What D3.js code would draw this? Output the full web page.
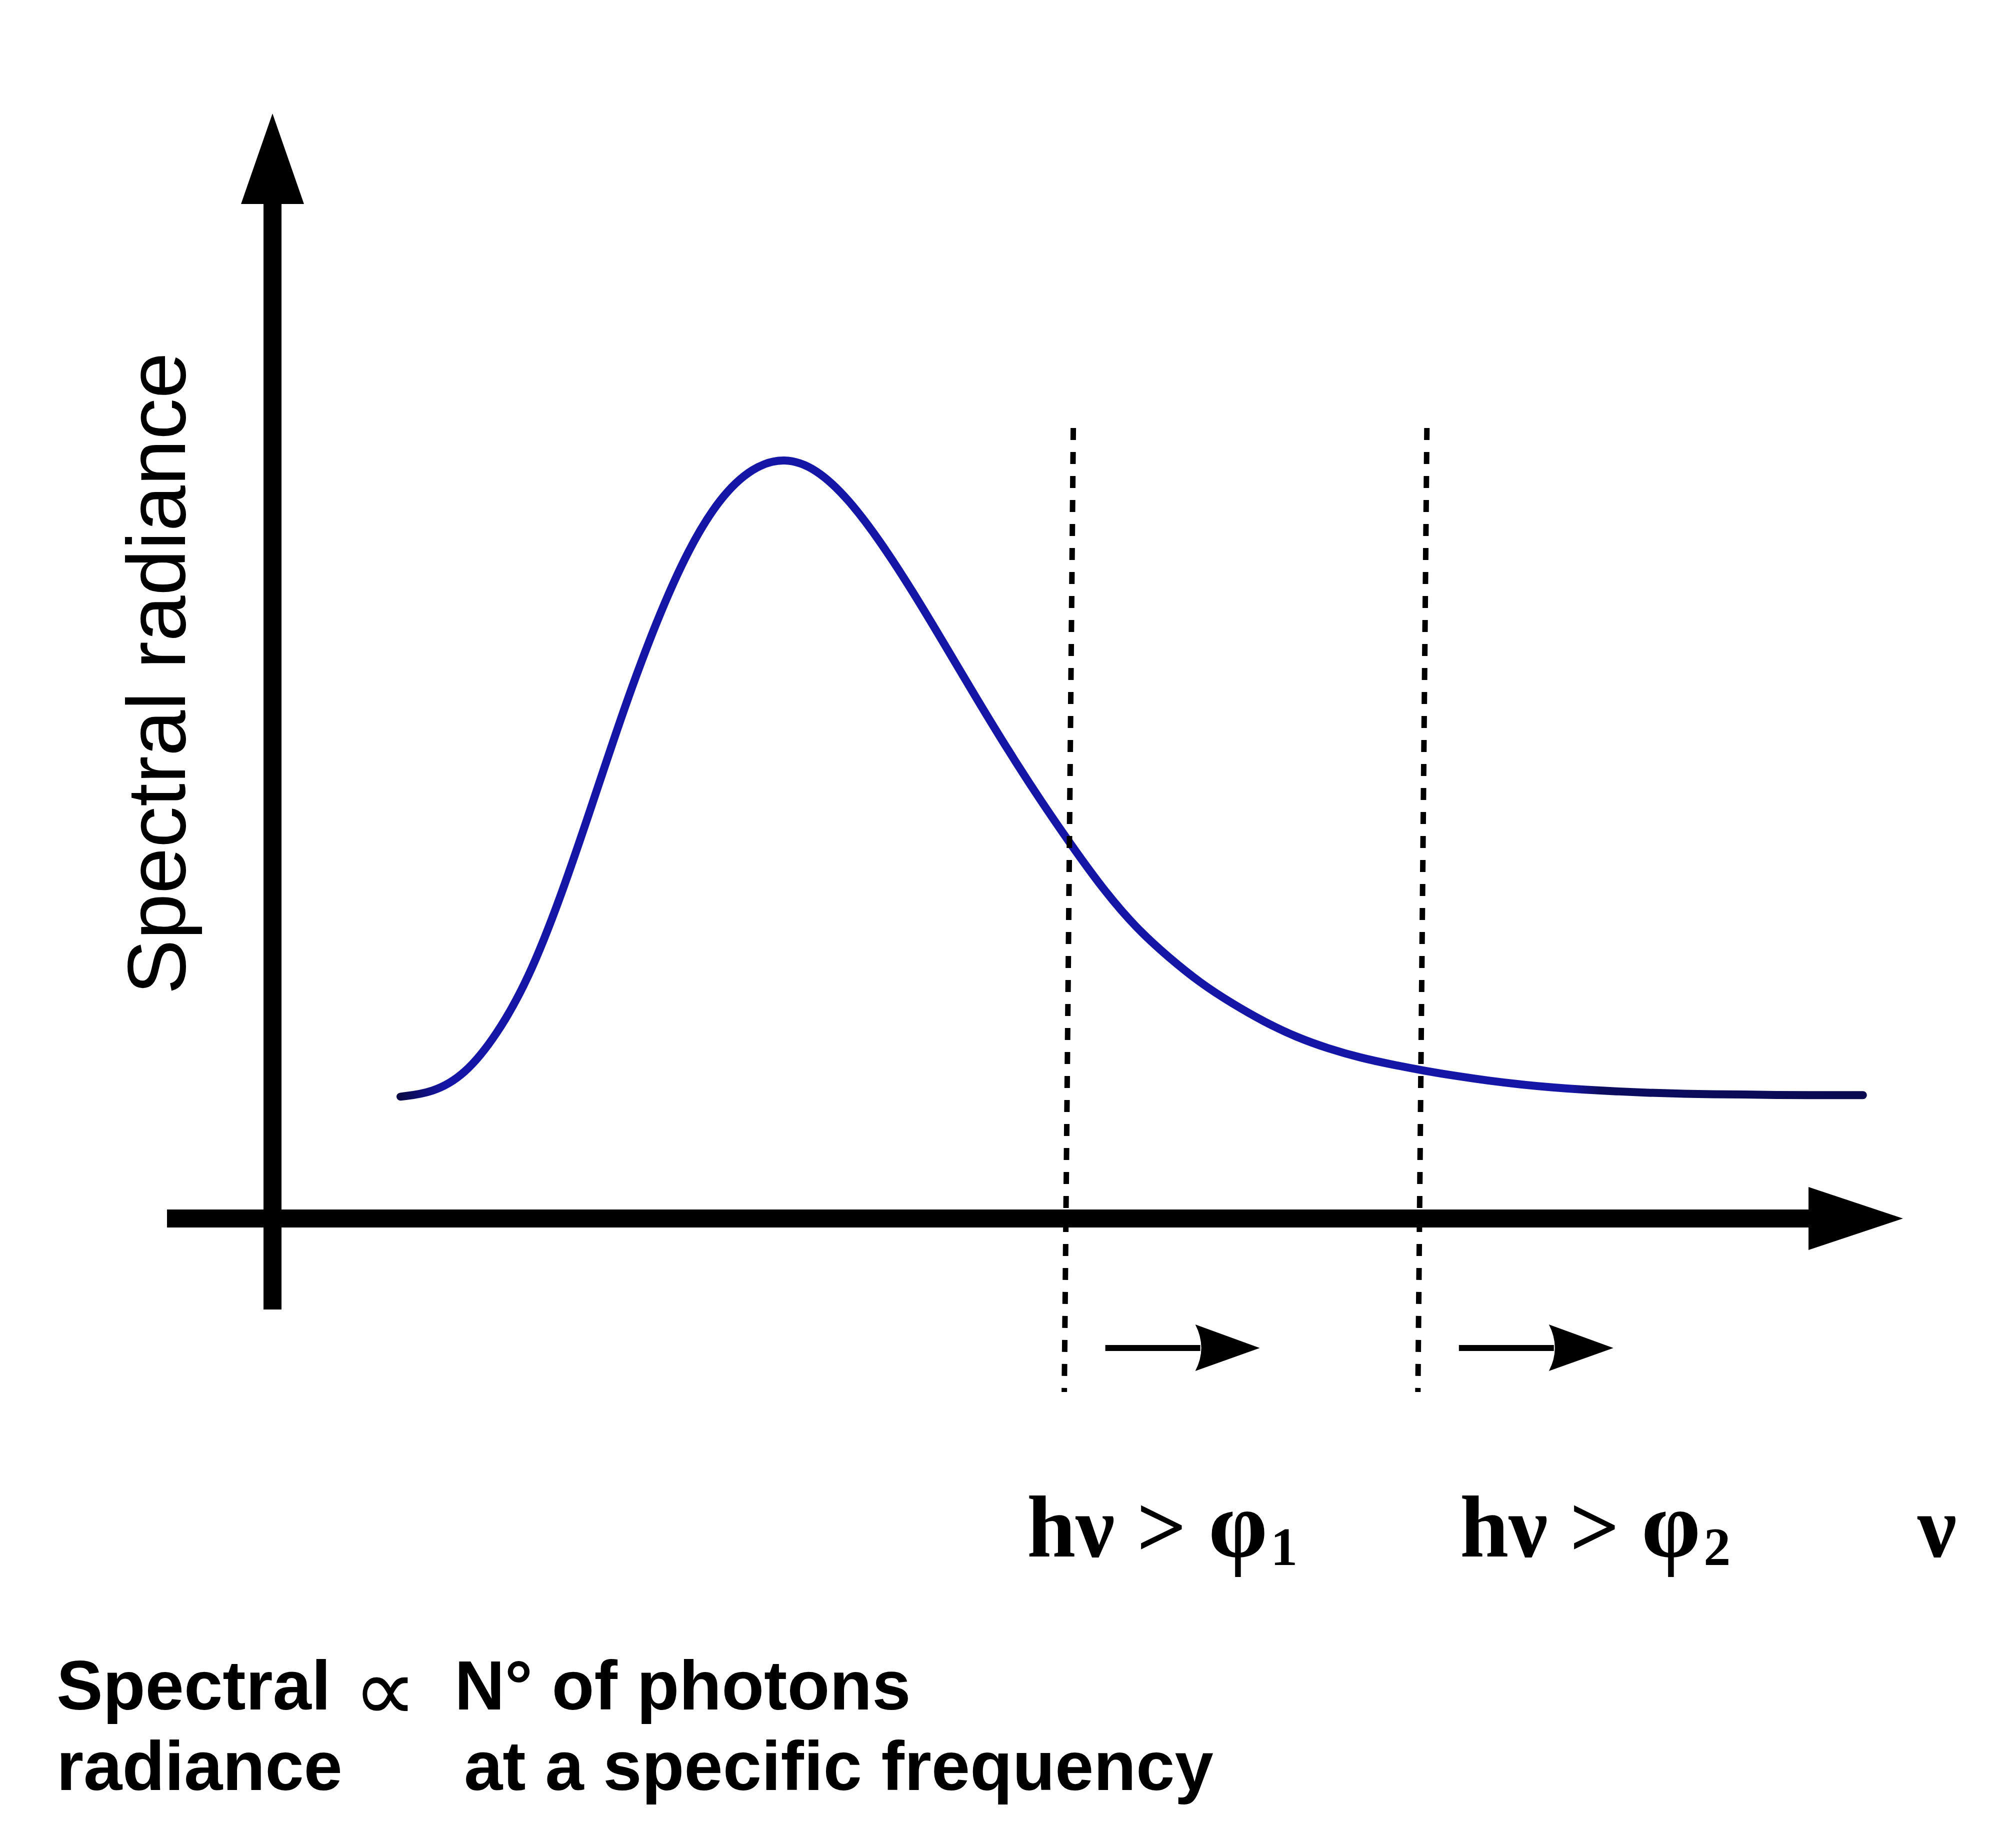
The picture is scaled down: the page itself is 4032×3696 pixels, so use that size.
<!DOCTYPE html>
<html>
<head>
<meta charset="utf-8">
<script src="https://cdn.jsdelivr.net/npm/d3@7"></script>
<style>
  html, body { margin: 0; padding: 0; background: #fff; }
  svg { display: block; }
</style>
</head>
<body>
<svg id="chart" width="4032" height="3696"></svg>
<script>
// curve at even steps (arbitrary units: frequency, normalised radiance)
const frequency = [0.8, 1.0, 1.2, 1.4, 1.6, 1.8, 2.0, 2.2, 2.4, 2.6, 2.8, 3.0, 3.2, 3.4, 3.6,
  3.8, 4.0, 4.2, 4.4, 4.6, 4.8, 5.0, 5.2, 5.4, 5.6, 5.8, 6.0, 6.2, 6.4, 6.6, 6.8, 7.0, 7.2,
  7.4, 7.6, 7.8, 8.0, 8.2, 8.4, 8.6, 8.8, 9.0, 9.2, 9.4, 9.6, 9.8, 9.94];
const radiance = [0.16, 0.165, 0.188, 0.24, 0.314, 0.421, 0.545, 0.672, 0.785, 0.88, 0.948, 0.987,
  1.0, 0.985, 0.945, 0.889, 0.824, 0.754, 0.683, 0.614, 0.549, 0.488, 0.43, 0.381, 0.343, 0.309,
  0.282, 0.258, 0.238, 0.223, 0.211, 0.202, 0.194, 0.187, 0.181, 0.176, 0.172, 0.169, 0.167, 0.165,
  0.164, 0.163, 0.163, 0.162, 0.162, 0.162, 0.162];

// work-function thresholds (same frequency units)
const thresholds = [4.98, 7.19];
const thresholdSubs = ["1", "2"];

const AXIS_LABEL = "Spectral radiance";
const NU_LABEL = "ν";
const CAPTION_LINE1 = ["Spectral", "∝", "N° of photons"];
const CAPTION_LINE2 = ["radiance", "at a specific frequency"];

const AXIS_WIDTH = 36;

const svg = d3.select("#chart");

const x = d3.scaleLinear().domain([0, 10]).range([545, 3745]);
const y = d3.scaleLinear().domain([0, 1]).range([2437, 914]);

function drawAxes() {
  const x0 = x(0);
  const y0 = y(0);

  // horizontal axis + head
  svg.append("line")
    .attr("x1", x0 - 211).attr("x2", 3620)
    .attr("y1", y0).attr("y2", y0)
    .attr("stroke", "#000").attr("stroke-width", AXIS_WIDTH);
  svg.append("path")
    .attr("d", `M3617,${y0 - 63}L3806,${y0}L3617,${y0 + 63}Z`)
    .attr("fill", "#000");

  // vertical axis + head
  svg.append("line")
    .attr("x1", x0).attr("x2", x0)
    .attr("y1", y0 + 182).attr("y2", 405)
    .attr("stroke", "#000").attr("stroke-width", AXIS_WIDTH);
  svg.append("path")
    .attr("d", `M${x0 - 63},408L${x0},227L${x0 + 63},408Z`)
    .attr("fill", "#000");

  svg.append("text")
    .attr("transform", `translate(370,1989) rotate(-90)`)
    .attr("font-family", "Liberation Sans, Arial, sans-serif")
    .attr("font-size", 165)
    .attr("fill", "#000")
    .text(AXIS_LABEL);
}

function drawCurve() {
  // the scanned curve goes darker at both flat ends
  const grad = svg.append("defs").append("linearGradient")
    .attr("id", "curveInk")
    .attr("gradientUnits", "userSpaceOnUse")
    .attr("x1", x(frequency[0])).attr("x2", x(frequency[frequency.length - 1]))
    .attr("y1", 0).attr("y2", 0);
  grad.selectAll("stop")
    .data([[0, "#0a0a48"], [0.03, "#1616a6"], [0.8, "#1616a6"], [0.82, "#0c0c60"], [1, "#0a0a50"]])
    .enter()
    .append("stop")
    .attr("offset", (d) => d[0])
    .attr("stop-color", (d) => d[1]);

  const line = d3.line()
    .x((d) => x(d[0]))
    .y((d) => y(d[1]))
    .curve(d3.curveBasis);

  svg.append("path")
    .datum(d3.zip(frequency, radiance))
    .attr("d", line)
    .attr("fill", "none")
    .attr("stroke", "url(#curveInk)")
    .attr("stroke-width", 16)
    .attr("stroke-linecap", "round");
}

function drawThresholds() {
  const g = svg.selectAll("g.threshold")
    .data(thresholds)
    .enter()
    .append("g")
    .classed("threshold", true)
    .attr("transform", (t) => `translate(${x(t)},0)`);

  g.append("line")
    .attr("x1", 8).attr("x2", -10)
    .attr("y1", 856).attr("y2", 2784)
    .attr("stroke", "#000")
    .attr("stroke-width", 11)
    .attr("stroke-dasharray", "24 24");

  // little arrow to the right of each threshold
  g.append("line")
    .attr("x1", 72).attr("x2", 262)
    .attr("y1", 2696).attr("y2", 2696)
    .attr("stroke", "#000").attr("stroke-width", 12);
  g.append("path")
    .attr("d", "M252,2649L381,2696L252,2742Q276,2696 252,2649Z")
    .attr("fill", "#000");
}

function drawLabels() {
  const serif = "Liberation Serif, Times New Roman, serif";
  const labelX = [2054, 2920];

  const lab = svg.selectAll("text.hv")
    .data(thresholds)
    .enter()
    .append("text")
    .classed("hv", true)
    .attr("x", (d, i) => labelX[i])
    .attr("y", 3113)
    .attr("font-family", serif)
    .attr("font-weight", "bold")
    .attr("font-size", 175)
    .attr("fill", "#000");
  lab.append("tspan").text("hν > ");
  lab.append("tspan").attr("font-size", 190).text("φ");
  lab.append("tspan")
    .attr("font-size", 108)
    .attr("dx", 6)
    .attr("dy", 17)
    .text((d, i) => thresholdSubs[i]);

  svg.append("text")
    .attr("x", 3835).attr("y", 3113)
    .attr("font-family", serif)
    .attr("font-weight", "bold")
    .attr("font-size", 175)
    .text(NU_LABEL);

  const sans = "Liberation Sans, Arial, sans-serif";
  const caption = svg.append("g")
    .attr("font-family", sans)
    .attr("font-weight", "bold")
    .attr("font-size", 139)
    .attr("fill", "#000");

  const line1X = [113, 706, 909];
  caption.selectAll("text.l1")
    .data(CAPTION_LINE1)
    .enter()
    .append("text")
    .classed("l1", true)
    .attr("x", (d, i) => line1X[i])
    .attr("y", (d, i) => (i === 1 ? 3442 : 3419))
    .attr("font-family", (d, i) => (i === 1 ? serif : null))
    .attr("font-weight", (d, i) => (i === 1 ? "normal" : null))
    .attr("font-size", (d, i) => (i === 1 ? 180 : null))
    .text((d) => d);

  const line2X = [113, 928];
  caption.selectAll("text.l2")
    .data(CAPTION_LINE2)
    .enter()
    .append("text")
    .classed("l2", true)
    .attr("x", (d, i) => line2X[i])
    .attr("y", 3580)
    .text((d) => d);
}

drawAxes();
drawCurve();
drawThresholds();
drawLabels();
</script>
</body>
</html>
